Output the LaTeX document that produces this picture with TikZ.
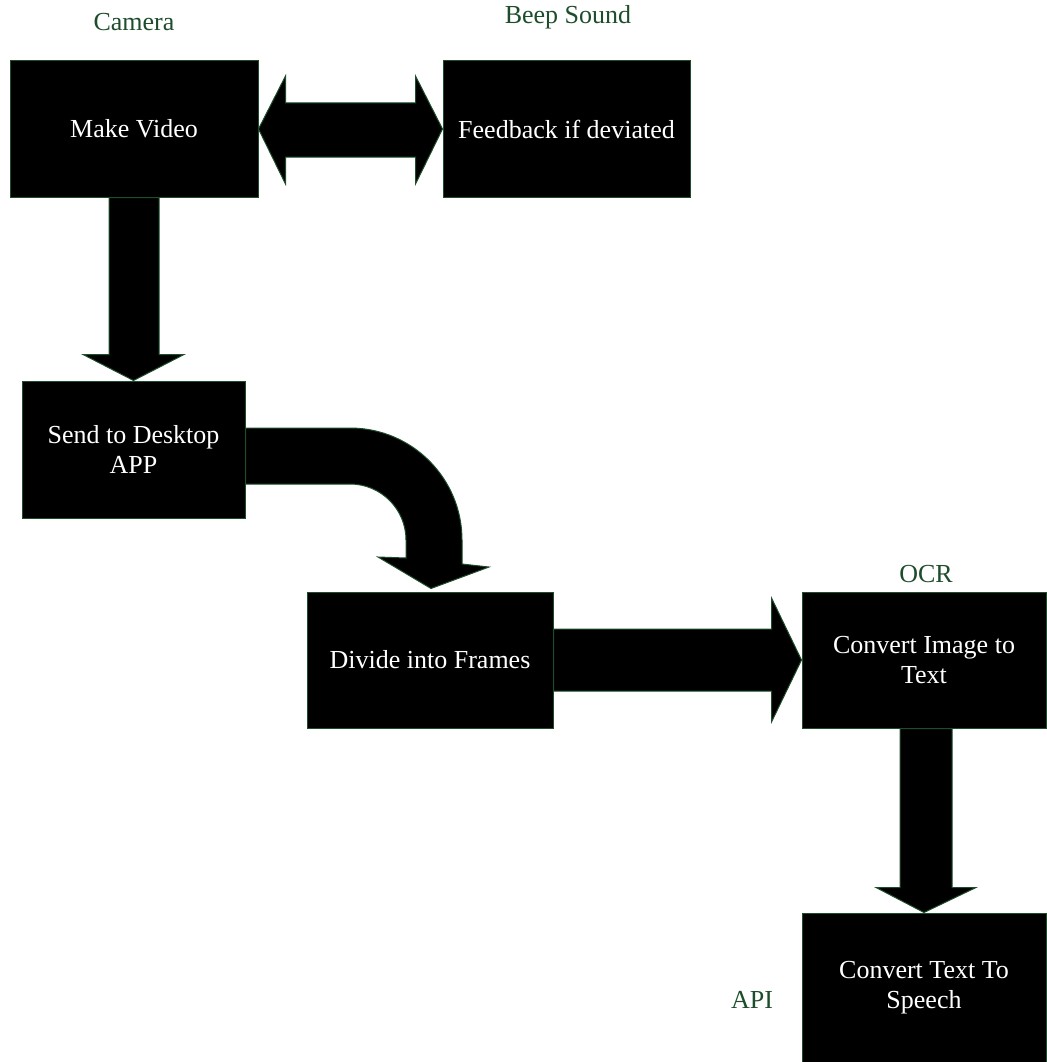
\documentclass[tikz,border=0pt]{standalone}
\usepackage{fontspec}
\setmainfont{Liberation Serif}
\usetikzlibrary{calc}
\definecolor{dgreen}{HTML}{1E4D2B}
\begin{document}
\begin{tikzpicture}[x=1pt,y=-1pt,
  box/.style={draw=dgreen,line width=1pt,fill=black,text=white,inner sep=0pt,align=center,
    font=\fontsize{26}{30}\selectfont},
  lbl/.style={text=dgreen,inner sep=0pt,font=\fontsize{26}{30}\selectfont},
  arr/.style={draw=dgreen,line width=1pt,fill=black,line join=miter}]
\useasboundingbox (0,0) rectangle (1046,1062);
\node[box,minimum width=248pt,minimum height=136pt] (mv) at (134,129) {Make Video};
\node[box,minimum width=247pt,minimum height=136pt] (fb) at (566.5,129) {Feedback if deviated};
\node[box,minimum width=223pt,minimum height=137pt] (sd) at (133.5,449.5) {Send to Desktop\\APP};
\node[box,minimum width=246pt,minimum height=136pt] (df) at (430,660) {Divide into Frames};
\node[box,minimum width=244pt,minimum height=136pt] (ci) at (924,660) {Convert Image to\\Text};
\node[box,minimum width=244pt,minimum height=149pt] (ct) at (924,987.5) {Convert Text To\\Speech};
\node[lbl] (lcam) at (134,22) {Camera};
\node[lbl] (lbeep) at (568,17) {Beep Sound};
\node[lbl] (locr) at (926,574) {OCR};
\node[lbl] (lapi) at (752,1000) {API};
% double arrow
\draw[arr] (mv.east) -- ($(mv.east)+(27,-53)$) -- ($(mv.east)+(27,-26)$)
  -- ($(fb.west)+(-27,-26)$) -- ($(fb.west)+(-27,-53)$) -- (fb.west)
  -- ($(fb.west)+(-27,55)$) -- ($(fb.west)+(-27,28)$)
  -- ($(mv.east)+(27,28)$) -- ($(mv.east)+(27,55)$) -- cycle;
% down arrow 1
\draw[arr] ($(mv.south)+(-25,0)$) -- ($(sd.north)+(-24.5,-26)$) -- ($(sd.north)+(-50.5,-26)$)
  -- (sd.north) -- ($(sd.north)+(50.5,-26)$) -- ($(sd.north)+(25.5,-26)$)
  -- ($(mv.south)+(25,0)$) -- cycle;
% curved arrow
\coordinate (cc) at (350,540);
\draw[arr] ($(sd.east)+(0,-21.5)$) -- (350,428) arc[start angle=-90,end angle=0,radius=112]
  -- (462,564) -- (489,567) -- ($(df.north)+(1,-3)$) -- (378,557) -- (406,558) -- (406,540)
  arc[start angle=0,end angle=-90,radius=56] -- ($(sd.east)+(0,34.5)$) -- cycle;
% right arrow
\draw[arr] ($(df.east)+(0,-31)$) -- ($(ci.west)+(-30,-31)$) -- ($(ci.west)+(-30,-62)$)
  -- (ci.west) -- ($(ci.west)+(-30,62)$) -- ($(ci.west)+(-30,31)$) -- ($(df.east)+(0,31)$) -- cycle;
% down arrow 2
\draw[arr] ($(ci.south)+(-24,0)$) -- ($(ct.north)+(-24,-25)$) -- ($(ct.north)+(-48,-25)$)
  -- (ct.north) -- ($(ct.north)+(52,-25)$) -- ($(ct.north)+(28,-25)$) -- ($(ci.south)+(28,0)$) -- cycle;
\end{tikzpicture}
\end{document}
